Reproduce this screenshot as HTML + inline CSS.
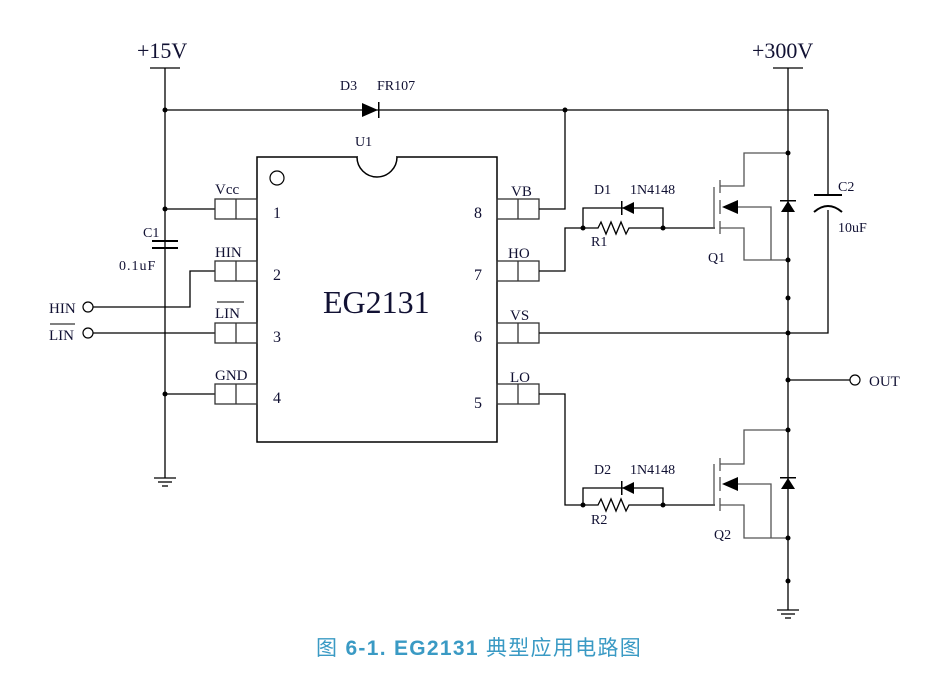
<!DOCTYPE html>
<html><head><meta charset="utf-8"><style>
html,body{margin:0;padding:0;background:#fff;width:950px;height:673px;overflow:hidden}
svg{display:block}
text{font-family:"Liberation Serif",serif;fill:#111133}
</style></head><body>
<svg width="950" height="673" viewBox="0 0 950 673" xmlns="http://www.w3.org/2000/svg">
<g stroke="#000" stroke-width="1.3" fill="none">
<line x1="165" y1="68" x2="165" y2="478"/>
<line x1="150" y1="68" x2="180" y2="68"/>
<line x1="154" y1="478" x2="176" y2="478"/><line x1="158" y1="482" x2="172" y2="482"/><line x1="162" y1="486" x2="168" y2="486"/>
<line x1="152" y1="241" x2="178" y2="241" stroke-width="2"/><line x1="152" y1="248" x2="178" y2="248" stroke-width="2"/>
<line x1="165" y1="110" x2="828" y2="110"/>
<line x1="165" y1="209" x2="215" y2="209"/>
<line x1="165" y1="394" x2="215" y2="394"/>
<polyline points="93,307 190,307 190,271 215,271"/>
<line x1="93" y1="333" x2="215" y2="333"/>
<rect x="257" y="157" width="240" height="285" stroke-width="1.5"/>
<g stroke="#333">
<rect x="215" y="199" width="42" height="20"/><line x1="236" y1="199" x2="236" y2="219"/>
<rect x="215" y="261" width="42" height="20"/><line x1="236" y1="261" x2="236" y2="281"/>
<rect x="215" y="323" width="42" height="20"/><line x1="236" y1="323" x2="236" y2="343"/>
<rect x="215" y="384" width="42" height="20"/><line x1="236" y1="384" x2="236" y2="404"/>
<rect x="497" y="199" width="42" height="20"/><line x1="518" y1="199" x2="518" y2="219"/>
<rect x="497" y="261" width="42" height="20"/><line x1="518" y1="261" x2="518" y2="281"/>
<rect x="497" y="323" width="42" height="20"/><line x1="518" y1="323" x2="518" y2="343"/>
<rect x="497" y="384" width="42" height="20"/><line x1="518" y1="384" x2="518" y2="404"/>
</g>
<polyline points="539,209 565,209 565,110"/>
<polyline points="539,271 565,271 565,228 583,228"/>
<polyline points="539,333 828,333 828,210"/>
<polyline points="539,394 565,394 565,505 583,505"/>
<line x1="828" y1="110" x2="828" y2="195"/>
<line x1="814" y1="195" x2="842" y2="195" stroke-width="2"/>
<path d="M814 212 Q828 200 842 212" stroke-width="2"/>
<polyline points="583,228 583,208 663,208 663,228"/>
<polyline points="583,228 598,228 601,222 606,234 611,222 616,234 621,222 626,234 629,228 663,228"/>
<line x1="663" y1="228" x2="715" y2="228"/>
<polyline points="583,505 583,488 663,488 663,505"/>
<polyline points="583,505 598,505 601,499 606,511 611,499 616,511 621,499 626,511 629,505 663,505"/>
<line x1="663" y1="505" x2="715" y2="505"/>
<line x1="788" y1="68" x2="788" y2="610"/>
<line x1="773" y1="68" x2="803" y2="68"/>
<line x1="777" y1="610" x2="799" y2="610"/><line x1="781" y1="614" x2="795" y2="614"/><line x1="785" y1="618" x2="791" y2="618"/>
<line x1="788" y1="380" x2="850" y2="380"/>
</g>
<g stroke="#555" stroke-width="1.3" fill="none">
<line x1="714" y1="187" x2="714" y2="228"/>
<line x1="720" y1="180" x2="720" y2="193"/><line x1="720" y1="200" x2="720" y2="214"/><line x1="720" y1="221" x2="720" y2="234"/>
<polyline points="720,186 744,186 744,153 788,153"/>
<polyline points="720,228 744,228 744,260 788,260"/>
<polyline points="735,207 771,207 771,260"/>
<line x1="714" y1="464" x2="714" y2="505"/>
<line x1="720" y1="458" x2="720" y2="471"/><line x1="720" y1="477" x2="720" y2="491"/><line x1="720" y1="498" x2="720" y2="511"/>
<polyline points="720,464 744,464 744,430 788,430"/>
<polyline points="720,505 744,505 744,538 788,538"/>
<polyline points="735,484 771,484 771,538"/>
</g>
<g fill="#000" stroke="none">
<polygon points="722,207 738,200 738,214"/>
<polygon points="722,484 738,477 738,491"/>
<polygon points="788,201 781,212 795,212"/><rect x="780" y="200" width="16" height="1.5"/>
<polygon points="788,478 781,489 795,489"/><rect x="780" y="477" width="16" height="1.5"/>
<polygon points="378,110 362,103 362,117"/><rect x="378" y="102" width="1.5" height="16"/>
<polygon points="622,208 634,202 634,214"/><rect x="621" y="201" width="1.5" height="14"/>
<polygon points="622,488 634,482 634,494"/><rect x="621" y="481" width="1.5" height="14"/>
<circle cx="165" cy="110" r="2.5"/><circle cx="565" cy="110" r="2.5"/>
<circle cx="165" cy="209" r="2.5"/><circle cx="165" cy="394" r="2.5"/>
<circle cx="583" cy="228" r="2.5"/><circle cx="663" cy="228" r="2.5"/>
<circle cx="583" cy="505" r="2.5"/><circle cx="663" cy="505" r="2.5"/>
<circle cx="788" cy="153" r="2.5"/><circle cx="788" cy="260" r="2.5"/><circle cx="788" cy="298" r="2.5"/>
<circle cx="788" cy="333" r="2.5"/><circle cx="788" cy="380" r="2.5"/>
<circle cx="788" cy="430" r="2.5"/><circle cx="788" cy="538" r="2.5"/><circle cx="788" cy="581" r="2.5"/>
</g>
<path d="M357 157 A20 20 0 0 0 397 157" fill="#fff" stroke="#000" stroke-width="1.5"/>
<line x1="358" y1="157" x2="396" y2="157" stroke="#fff" stroke-width="2"/>
<circle cx="277" cy="178" r="7" fill="none" stroke="#000" stroke-width="1.2"/>
<circle cx="88" cy="307" r="5" fill="#fff" stroke="#000" stroke-width="1.2"/>
<circle cx="88" cy="333" r="5" fill="#fff" stroke="#000" stroke-width="1.2"/>
<circle cx="855" cy="380" r="5" fill="#fff" stroke="#000" stroke-width="1.2"/>
<text x="137" y="58" font-size="22">+15V</text>
<text x="752" y="58" font-size="22">+300V</text>
<text x="340" y="90" font-size="14">D3</text>
<text x="377" y="90" font-size="14">FR107</text>
<text x="355" y="146" font-size="14">U1</text>
<text x="323" y="313" font-size="32">EG2131</text>
<text x="215" y="194" font-size="15">Vcc</text>
<text x="215" y="257" font-size="15">HIN</text>
<text x="215" y="318" font-size="15">LIN</text>
<line x1="217" y1="302" x2="244" y2="302" stroke="#000"/>
<text x="215" y="380" font-size="15">GND</text>
<text x="273" y="218" font-size="16">1</text>
<text x="273" y="280" font-size="16">2</text>
<text x="273" y="342" font-size="16">3</text>
<text x="273" y="403" font-size="16">4</text>
<text x="474" y="218" font-size="16">8</text>
<text x="474" y="280" font-size="16">7</text>
<text x="474" y="342" font-size="16">6</text>
<text x="474" y="408" font-size="16">5</text>
<text x="511" y="196" font-size="15">VB</text>
<text x="508" y="258" font-size="15">HO</text>
<text x="510" y="320" font-size="15">VS</text>
<text x="510" y="382" font-size="15">LO</text>
<text x="143" y="237" font-size="14">C1</text>
<text x="119" y="270" font-size="14" letter-spacing="1">0.1uF</text>
<text x="49" y="313" font-size="15">HIN</text>
<text x="49" y="340" font-size="15">LIN</text>
<line x1="50" y1="324" x2="75" y2="324" stroke="#000"/>
<text x="594" y="194" font-size="14">D1</text>
<text x="630" y="194" font-size="14">1N4148</text>
<text x="591" y="246" font-size="14">R1</text>
<text x="708" y="262" font-size="14">Q1</text>
<text x="594" y="474" font-size="14">D2</text>
<text x="630" y="474" font-size="14">1N4148</text>
<text x="591" y="524" font-size="14">R2</text>
<text x="714" y="539" font-size="14">Q2</text>
<text x="838" y="191" font-size="14">C2</text>
<text x="838" y="232" font-size="14">10uF</text>
<text x="869" y="386" font-size="15">OUT</text>
<text x="316" y="655" font-size="21" letter-spacing="1.3" style="font-family:'Liberation Sans','Noto Sans CJK SC',sans-serif;fill:#3a9ac4">图 <tspan font-weight="bold">6-1. EG2131</tspan> 典型应用电路图</text>
</svg>
</body></html>
